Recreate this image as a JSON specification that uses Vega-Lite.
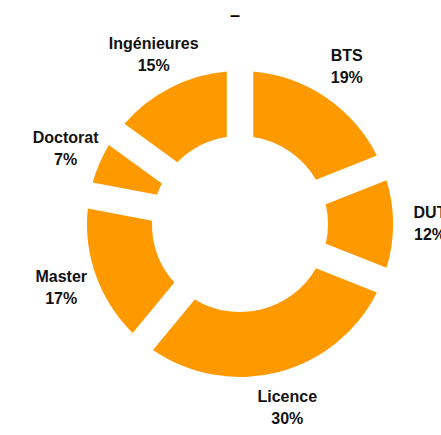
{
  "$schema": "https://vega.github.io/schema/vega-lite/v6.json",
  "autosize": {"type": "none"},
  "width": 402,
  "height": 422,
  "padding": {"left": 39, "top": 13, "right": 0, "bottom": 0},
  "background": "white",
  "title": {"text": "–", "fontSize": 18, "fontWeight": "bold", "color": "black", "font": "Liberation Sans", "anchor": "middle", "offset": -12, "dx": -5},
  "data": {"values": [
    {"category": "BTS", "pct": 19, "label": "19%"},
    {"category": "DUT", "pct": 12, "label": "12%"},
    {"category": "Licence", "pct": 30, "label": "30%"},
    {"category": "Master", "pct": 17, "label": "17%"},
    {"category": "Doctorat", "pct": 7, "label": "7%"},
    {"category": "Ingénieures", "pct": 15, "label": "15%"}
  ]},
  "transform": [{"window": [{"op": "row_number", "as": "idx"}]}],
  "encoding": {
    "theta": {"field": "pct", "type": "quantitative", "stack": true},
    "order": {"field": "idx", "type": "quantitative", "sort": "ascending"}
  },
  "layer": [
    {
      "mark": {"type": "arc", "innerRadius": 88, "outerRadius": 153, "padAngle": 0.15, "color": "#FF9900", "stroke": null}
    },
    {
      "mark": {"type": "text", "radius": 190, "dy": -11, "font": "Liberation Sans", "fontSize": 16, "fontWeight": "bold", "color": "#111111", "align": "center", "baseline": "middle"},
      "encoding": {"text": {"field": "category", "type": "nominal"}}
    },
    {
      "mark": {"type": "text", "radius": 190, "dy": 11, "font": "Liberation Sans", "fontSize": 16, "fontWeight": "bold", "color": "#111111", "align": "center", "baseline": "middle"},
      "encoding": {"text": {"field": "label", "type": "nominal"}}
    }
  ],
  "config": {"view": {"stroke": null}}
}
